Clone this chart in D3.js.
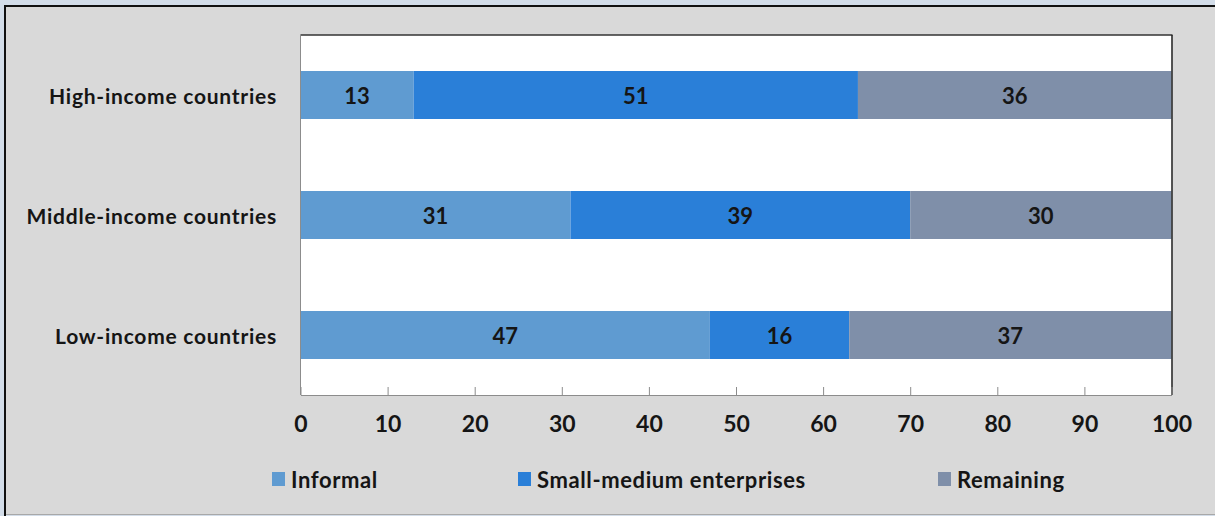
<!DOCTYPE html>
<html><head><meta charset="utf-8">
<script src="https://cdn.jsdelivr.net/npm/d3@7"></script>
<style>
html,body{margin:0;padding:0;background:#d9d9d9;}
svg{display:block;}
text{font-family:"Lato","Open Sans",sans-serif;fill:#151515;font-weight:bold;}
</style></head><body>
<svg id="c" width="1215" height="516"></svg>
<script>
const categories = ["High-income countries","Middle-income countries","Low-income countries"];
const seriesNames = ["Informal","Small-medium enterprises","Remaining"];
const informal = [13,31,47];
const sme = [51,39,16];
const remaining = [36,30,37];
const xTicks = [0,10,20,30,40,50,60,70,80,90,100];
const colors = ["#5f9bd1","#2a7fd8","#7f8fa9"];

(function(){
const svg = d3.select("#c");
svg.append("rect").attr("x",0).attr("y",0).attr("width",1215).attr("height",516).attr("fill","#d3dde9");
svg.append("rect").attr("x",6).attr("y",7).attr("width",1209).attr("height",507).attr("fill","#d9d9d9");
svg.append("line").attr("x1",5).attr("x2",1215).attr("y1",6).attr("y2",6).attr("stroke","#111").attr("stroke-width",2);
svg.append("line").attr("x1",5).attr("x2",5).attr("y1",5).attr("y2",516).attr("stroke","#111").attr("stroke-width",2);
svg.append("line").attr("x1",6).attr("x2",1215).attr("y1",514.5).attr("y2",514.5).attr("stroke","#a8a8a8").attr("stroke-width",1);

const pL = 300.5, pR = 1171.5, pT = 35, pB = 395;
const x = d3.scaleLinear().domain([0,100]).range([pL,pR]);
const y = d3.scaleBand().domain(categories).range([pT,pB]).paddingInner(0.6).paddingOuter(0.3);

svg.append("rect").attr("x",pL).attr("y",pT).attr("width",pR-pL).attr("height",pB-pT).attr("fill","#fff");

const data = categories.map((c,i)=>({cat:c, Informal:informal[i], "Small-medium enterprises":sme[i], Remaining:remaining[i]}));
const stack = d3.stack().keys(seriesNames)(data);

stack.forEach((s,si)=>{
  const g = svg.append("g");
  g.selectAll("rect").data(s).join("rect")
    .attr("x",d=>x(d[0])).attr("width",d=>x(d[1])-x(d[0]))
    .attr("y",d=>y(d.data.cat)).attr("height",y.bandwidth())
    .attr("fill",colors[si]);
  g.selectAll("text").data(s).join("text")
    .attr("x",d=>(x(d[0])+x(d[1]))/2).attr("y",d=>y(d.data.cat)+y.bandwidth()/2)
    .attr("text-anchor","middle").attr("dominant-baseline","central")
    .attr("font-size",22).text(d=>d[1]-d[0]);
});

svg.append("line").attr("x1",pL).attr("x2",pR+1).attr("y1",pT).attr("y2",pT).attr("stroke","#333").attr("stroke-width",1.5);
svg.append("line").attr("x1",pR+0.5).attr("x2",pR+0.5).attr("y1",pT).attr("y2",pB).attr("stroke","#222").attr("stroke-width",1.5);

const xa = svg.append("g").attr("transform",`translate(0,${pB})`)
  .call(d3.axisBottom(x).tickValues(xTicks).tickSizeInner(-8).tickSizeOuter(0).tickPadding(30));
xa.select(".domain").attr("stroke","#8c8c8c");
xa.selectAll(".tick line").attr("stroke","#8c8c8c");
xa.selectAll(".tick text").attr("font-size",23).attr("font-family","Lato,'Open Sans',sans-serif").attr("fill","#151515").attr("dy","0.3em");
svg.append("line").attr("x1",pL).attr("x2",pL).attr("y1",pT).attr("y2",pB).attr("stroke","#8c8c8c");

svg.selectAll("text.cat").data(categories).join("text").attr("class","cat")
  .attr("x",277).attr("y",d=>y(d)+y.bandwidth()/2)
  .attr("text-anchor","end").attr("dominant-baseline","central")
  .attr("font-size",21).attr("letter-spacing",0.75).text(d=>d);

const legX = [272,518,938];
const lg = svg.selectAll("g.leg").data(seriesNames).join("g").attr("class","leg")
  .attr("transform",(d,i)=>`translate(${legX[i]},479)`);
lg.append("rect").attr("x",0).attr("y",-7).attr("width",13).attr("height",14).attr("fill",(d,i)=>colors[i]);
lg.append("text").attr("x",19).attr("y",0).attr("dominant-baseline","central").attr("font-size",22).attr("letter-spacing",0.6).text(d=>d);
})();
</script>
</body></html>
